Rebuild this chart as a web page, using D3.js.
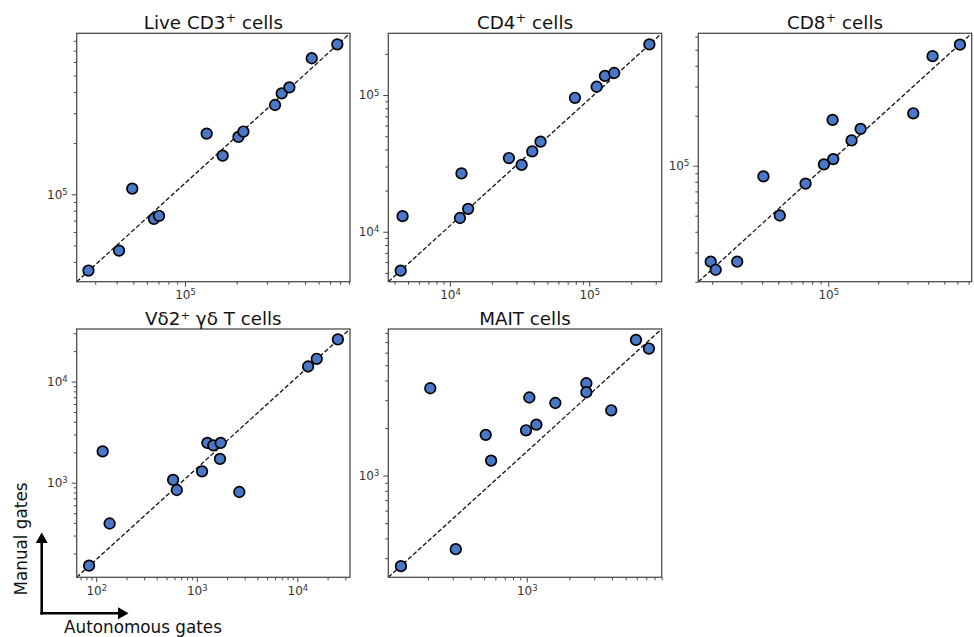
<!DOCTYPE html>
<html>
<head>
<meta charset="utf-8">
<script src="https://cdn.jsdelivr.net/npm/d3@7/dist/d3.min.js"></script>
<style>
  body { margin: 0; background: #fff; }
  text { font-family: "DejaVu Sans", sans-serif; }
</style>
</head>
<body>
<svg id="chart" width="974" height="637"></svg>
<script>
// panel titles: [text, superscript, rest]
const titles = [
    ["Live CD3", "+", " cells"],
    ["CD4", "+", " cells"],
    ["CD8", "+", " cells"],
    ["V\u03b42\u207a \u03b3\u03b4 T cells", "", ""],
    ["MAIT cells", "", ""]
];

// autonomous (x) vs manual (y) counts, one pair of arrays per population
const cd3Auto   = [27400, 41300, 49300, 65900, 70600, 133700, 165700, 204800, 218900, 334500, 365600, 405300, 547000, 771000];
const cd3Manual = [35600, 46600, 107900, 71600, 74700, 227500, 168800, 217400, 233900, 335000, 392500, 425600, 631000, 762000];

const cd4Auto   = [4430, 4570, 11800, 13500, 12100, 26500, 32700, 39000, 44700, 78900, 113000, 129500, 151000, 270000];
const cd4Manual = [5190, 13000, 12600, 14700, 26700, 34600, 30800, 38700, 45600, 95500, 115000, 138000, 145000, 235000];

const cd8Auto   = [19600, 21000, 28300, 40700, 51100, 73000, 94200, 107200, 106200, 138200, 156700, 325000, 425000, 621000];
const cd8Manual = [26400, 23600, 26400, 86300, 50100, 78000, 101900, 109600, 188800, 142000, 166700, 207000, 457000, 537000];

const vd2Auto   = [85, 116, 136, 582, 633, 1129, 1275, 1462, 1730, 1702, 2650, 12800, 15600, 25300];
const vd2Manual = [151, 2040, 395, 1064, 847, 1294, 2472, 2340, 2472, 1717, 809, 14100, 16800, 26100];

const maitAuto   = [129, 208, 315, 513, 560, 989, 1043, 1170, 1593, 2640, 2640, 3960, 5920, 7310];
const maitManual = [267, 3570, 342, 1810, 1244, 1935, 3120, 2100, 2880, 3840, 3370, 2590, 7230, 6370];

// axis limits
const xLimits = [[23400, 914000], [3610, 331000], [16500, 731000], [64, 33400], [105, 9000]];
const yLimits = [[30600, 885000], [4310, 283000], [20000, 628000], [116, 33100], [227, 8470]];

const autoSeries = [cd3Auto, cd4Auto, cd8Auto, vd2Auto, maitAuto];
const manualSeries = [cd3Manual, cd4Manual, cd8Manual, vd2Manual, maitManual];

// layout
const boxes = [
    {left: 76.7, top: 33.3, w: 273.3, h: 248.4},
    {left: 388.3, top: 33.3, w: 273.4, h: 248.4},
    {left: 698.3, top: 33.3, w: 273.4, h: 248.4},
    {left: 76.7, top: 329, w: 273.3, h: 248.3},
    {left: 388.3, top: 329, w: 273.4, h: 248.3}
];
const dotFill = "#4a78c8";
const tickColor = "#444";

var svg = d3.select("#chart");

// log ticks: majors at powers of ten, minors at 2..9
function logTicks(domain) {
    var major = [], minor = [];
    var e0 = Math.floor(Math.log10(domain[0])), e1 = Math.ceil(Math.log10(domain[1]));
    for (var e = e0; e <= e1; e++) {
        for (var k = 1; k <= 9; k++) {
            var v = k * Math.pow(10, e);
            if (v < domain[0] || v > domain[1]) continue;
            if (k == 1) major.push(v); else minor.push(v);
        }
    }
    return {major: major, minor: minor};
}

// turn "10^e" labels into 10 + superscript
function powerLabels(sel) {
    sel.selectAll(".tick text").each(function (d) {
        var t = d3.select(this);
        var e = Math.round(Math.log10(d));
        t.text("10");
        t.append("tspan").attr("dy", "-0.45em").attr("font-size", "0.7em").text(e);
    });
}

boxes.forEach(function (b, i) {
    var g = svg.append("g").attr("transform", "translate(" + b.left + "," + b.top + ")");

    var x = d3.scaleLog().domain(xLimits[i]).range([0, b.w]);
    var y = d3.scaleLog().domain(yLimits[i]).range([b.h, 0]);

    var xt = logTicks(xLimits[i]), yt = logTicks(yLimits[i]);

    // minor ticks
    g.append("g").attr("transform", "translate(0," + b.h + ")")
        .call(d3.axisBottom(x).tickValues(xt.minor).tickSize(3).tickFormat(""))
        .call(function (a) { a.select(".domain").remove(); });
    g.append("g")
        .call(d3.axisLeft(y).tickValues(yt.minor).tickSize(3).tickFormat(""))
        .call(function (a) { a.select(".domain").remove(); });

    // major ticks
    var xa = g.append("g").attr("transform", "translate(0," + b.h + ")")
        .call(d3.axisBottom(x).tickValues(xt.major).tickSize(5).tickPadding(4))
        .call(function (a) { a.select(".domain").remove(); })
        .call(powerLabels);
    var ya = g.append("g")
        .call(d3.axisLeft(y).tickValues(yt.major).tickSize(5).tickPadding(4))
        .call(function (a) { a.select(".domain").remove(); })
        .call(powerLabels);

    [xa, ya].forEach(function (a) {
        a.selectAll("text").attr("font-size", 12).attr("fill", "#333").attr("font-family", "DejaVu Sans");
    });
    g.selectAll(".tick line").attr("stroke", tickColor).attr("stroke-width", 1);

    // identity diagonal (corner to corner of the axes box)
    g.append("line")
        .attr("x1", x.range()[0]).attr("y1", y.range()[0])
        .attr("x2", x.range()[1]).attr("y2", y.range()[1])
        .attr("stroke", "#111")
        .attr("stroke-width", 1.3)
        .attr("stroke-dasharray", "4.5,2.2");

    // points
    var pts = autoSeries[i].map(function (v, j) { return [v, manualSeries[i][j]]; });
    g.selectAll("circle")
        .data(pts)
        .enter().append("circle")
        .attr("cx", function (d) { return x(d[0]); })
        .attr("cy", function (d) { return y(d[1]); })
        .attr("r", 5.3)
        .attr("fill", dotFill)
        .attr("stroke", "#000")
        .attr("stroke-width", 1.7);

    // frame
    g.append("rect")
        .attr("width", b.w).attr("height", b.h)
        .attr("fill", "none")
        .attr("stroke", "#4d4d4d")
        .attr("stroke-width", 1.3);

    // title
    var t = svg.append("text")
        .attr("x", b.left + b.w / 2)
        .attr("y", b.top - 4.5)
        .attr("text-anchor", "middle")
        .attr("font-size", 18.3)
        .attr("fill", "#111")
        .text(titles[i][0]);
    if (titles[i][1]) {
        t.append("tspan").attr("dy", "-0.5em").attr("font-size", "0.7em").text(titles[i][1]);
        t.append("tspan").attr("dy", "0.35em").text(titles[i][2]);
    }
});

// direction arrows and their labels
var arrows = svg.append("g").attr("stroke", "#000").attr("fill", "#000");
arrows.append("line").attr("x1", 41.7).attr("y1", 614.6).attr("x2", 41.7).attr("y2", 541).attr("stroke-width", 2.6);
arrows.append("path").attr("d", "M41.7,532.5 L47.7,543 L35.7,543 Z").attr("stroke", "none");
arrows.append("line").attr("x1", 40.4).attr("y1", 613.3).attr("x2", 120).attr("y2", 613.3).attr("stroke-width", 2.6);
arrows.append("path").attr("d", "M128.5,613.3 L118,607.3 L118,619.3 Z").attr("stroke", "none");

svg.append("text")
    .attr("transform", "translate(27,539) rotate(-90)")
    .attr("text-anchor", "middle")
    .attr("font-size", 16.8)
    .attr("fill", "#111")
    .text("Manual gates");

svg.append("text")
    .attr("x", 143)
    .attr("y", 633)
    .attr("text-anchor", "middle")
    .attr("font-size", 16.8)
    .attr("fill", "#111")
    .text("Autonomous gates");
</script>
</body>
</html>
